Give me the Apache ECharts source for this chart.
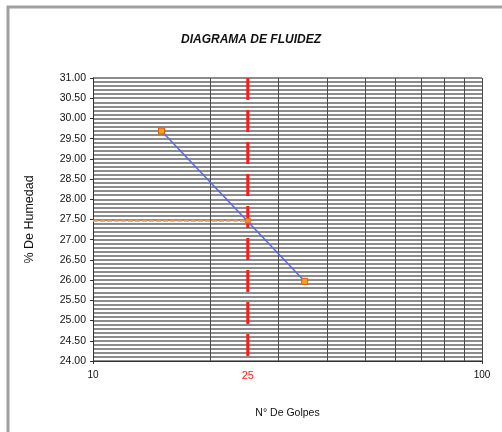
<!DOCTYPE html>
<html>
<head>
<meta charset="utf-8">
<script src="https://cdn.jsdelivr.net/npm/echarts@6/dist/echarts.min.js"></script>
<style>
  html, body { margin: 0; padding: 0; background: #fff; }
  #chart { width: 502px; height: 432px; }
</style>
</head>
<body>
<div id="chart"></div>
<script>
// Ensayo de límite líquido: número de golpes vs. contenido de humedad
const golpes = [15, 35];
const humedad = [29.69, 25.97];

// Límite líquido leído a 25 golpes
const golpesLL = 25;
const humedadLL = 27.47;

// Rango y divisiones del eje de humedad
const yMin = 24, yMax = 31, yStep = 0.5;
// Divisiones logarítmicas intermedias del eje de golpes
const xMin = 10, xMax = 100;
const divisionesX = [20, 30, 40, 50, 60, 70, 80, 90];

const font = '"Liberation Sans", Arial, sans-serif';
const gridColor = '#8c8c8c';

const chart = echarts.init(document.getElementById('chart'), null, { renderer: 'canvas' });

chart.setOption({
  animation: false,
  backgroundColor: '#fff',
  title: {
    text: 'DIAGRAMA DE FLUIDEZ',
    left: 'center',
    top: 29,
    textStyle: { fontFamily: font, fontSize: 12, fontWeight: 'bold', fontStyle: 'italic', color: '#111' }
  },
  graphic: [{
    type: 'rect',
    shape: { x: 8, y: 7, width: 620, height: 620 },
    style: { fill: 'none', stroke: '#a0a0a0', lineWidth: 3 },
    silent: true
  }],
  grid: { left: 93, right: 20, top: 78, bottom: 71 },
  xAxis: {
    type: 'log',
    logBase: 10,
    min: xMin,
    max: xMax,
    name: 'N° De Golpes',
    nameLocation: 'middle',
    nameGap: 47,
    nameTextStyle: { fontFamily: font, fontSize: 10.5, color: '#111' },
    axisLine: { show: true, lineStyle: { color: '#333', width: 1 } },
    axisTick: { show: true, length: 3, lineStyle: { color: '#333' } },
    axisLabel: { fontFamily: font, fontSize: 10, color: '#111', margin: 9 },
    splitLine: { show: true, lineStyle: { color: '#4a4a4a', width: 1 } }
  },
  yAxis: {
    type: 'value',
    min: yMin,
    max: yMax,
    interval: yStep,
    name: '% De Humedad',
    nameLocation: 'middle',
    nameGap: 57,
    nameRotate: 90,
    nameTextStyle: { fontFamily: font, fontSize: 12.5, color: '#111' },
    axisLine: { show: true, lineStyle: { color: '#333', width: 1 } },
    axisTick: { show: true, length: 3, lineStyle: { color: '#333' } },
    axisLabel: {
      fontFamily: font, fontSize: 10.5, color: '#111', margin: 7,
      formatter: v => v.toFixed(2)
    },
    splitLine: { show: true, lineStyle: { color: gridColor, width: 1.8 } },
    minorTick: { show: false, splitNumber: 5 },
    minorSplitLine: { show: true, lineStyle: { color: gridColor, width: 1.8 } }
  },
  series: [
    {
      // divisiones verticales intermedias de la escala logarítmica
      type: 'line',
      data: [],
      silent: true,
      markLine: {
        silent: true,
        symbol: 'none',
        animation: false,
        label: { show: false },
        lineStyle: { color: '#4a4a4a', width: 1, type: 'solid' },
        data: divisionesX.map(v => ({ xAxis: v }))
      }
    },
    {
      // línea vertical a 25 golpes, trazada de arriba hacia abajo
      type: 'line',
      data: [[golpesLL, yMax], [golpesLL, yMin]],
      showSymbol: false,
      symbol: 'none',
      silent: true,
      z: 4,
      lineStyle: { color: '#ff1a1a', width: 3, type: [22, 10] },
      markLine: {
        silent: true,
        symbol: 'none',
        animation: false,
        lineStyle: { color: 'rgba(0,0,0,0)', width: 1, type: 'solid' },
        label: {
          show: true,
          position: 'start',
          distance: 9,
          formatter: String(golpesLL),
          fontFamily: font, fontSize: 11, color: '#ff1a1a'
        },
        data: [{ xAxis: golpesLL }]
      }
    },
    {
      // lectura horizontal del límite líquido
      type: 'line',
      data: [[xMin, humedadLL], [golpesLL, humedadLL]],
      showSymbol: false,
      symbol: 'none',
      z: 5,
      lineStyle: { color: '#e39a6a', width: 2, type: [5, 2] }
    },
    {
      // curva de fluidez
      type: 'line',
      data: golpes.map((g, i) => [g, humedad[i]]),
      symbol: 'rect',
      symbolSize: 6,
      z: 6,
      lineStyle: { color: '#5566ee', width: 1.5 },
      itemStyle: { color: '#f5a020', borderColor: '#e05a10', borderWidth: 1 }
    },
    {
      type: 'scatter',
      data: [[golpesLL, humedadLL]],
      symbol: 'rect',
      symbolSize: 5,
      z: 7,
      itemStyle: { color: '#f5a020', borderColor: '#e05a10', borderWidth: 1 }
    }
  ]
});
</script>
</body>
</html>
